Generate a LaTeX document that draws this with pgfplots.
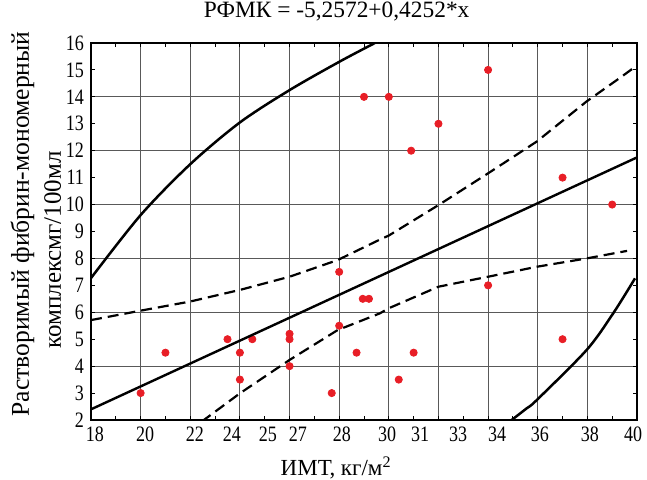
\documentclass[border=0pt]{standalone}
\usepackage{fontspec}
\setmainfont{Liberation Serif}
\newfontfamily\tickfont{Liberation Serif}[FakeStretch=0.82]
\usepackage{pgfplots}
\pgfplotsset{compat=1.18}
\definecolor{dotred}{RGB}{232,30,38}

\begin{document}
\begin{tikzpicture}
\path[use as bounding box] (-45.5pt,-30pt) rectangle (278pt,210pt);
\begin{axis}[
    at={(0,0)}, anchor=south west,
    scale only axis, width=273pt, height=188.5pt,
    xmin=18, xmax=40, ymin=2, ymax=16,
    clip mode=individual,
    xtick={18,...,40}, xticklabels={},
    minor xtick={20,22,...,38},
    ytick={2,...,16},
    minor ytick={4,6,...,14},
    xminorgrids, yminorgrids,
    minor grid style={black!65, line width=0.5pt},
    minor tick length=0pt,
    major tick length=2.2pt,
    tick align=inside,
    tick style={black, line width=0.5pt},
    axis line style={black, line width=0.6pt},
    % tick labels sit where the printed figure has them
    extra x ticks={18.16,20.18,22.19,23.68,25.13,26.34,28.11,29.93,31.26,32.79,34.36,36.09,38.1,39.84},
    extra x tick labels={18,20,22,24,25,27,28,30,31,33,34,36,38,40},
    extra x tick style={major tick length=0pt, grid=none},
    tick label style={font=\tickfont\fontsize{11}{13}\selectfont},
    /pgf/number format/assume math mode=true,
    title={РФМК = -5,2572+0,4252*x},
    title style={at={(axis description cs:0.45,1)}, anchor=base, yshift=6.5pt,
        font=\fontsize{11.7}{13}\selectfont, inner sep=0pt},
    xlabel={ИМТ, кг/м\textsuperscript{2}},
    xlabel style={at={(axis description cs:0.449,0)}, anchor=base, yshift=-28pt,
        font=\fontsize{11.5}{13}\selectfont, inner sep=0pt},
]
% data points
\addplot[only marks, mark=*, mark size=1.8pt, color=dotred] coordinates {
    (20,3) (21,4.5) (23.5,5) (24,4.5) (24,3.5) (24.5,5)
    (26,5.2) (26,5) (26,4) (27.7,3) (28,7.5) (28,5.5)
    (28.7,4.5) (28.95,6.5) (29.2,6.5) (29,14) (30,14) (34,15)
    (32,13) (30.9,12) (37,11) (39,10) (34,7) (37,5)
    (31,4.5) (30.4,3.5)
};
% regression line
\addplot[black, line width=1.2pt] coordinates {(18,2.396) (40,11.751)};
% confidence bands
\addplot[black, line width=1.1pt, dash pattern=on 5.5pt off 3pt] coordinates {
    (18,5.71) (20,6.06) (22,6.4) (24,6.83) (26,7.32) (27.94,7.94)
    (29.64,8.7) (30,8.85) (32,9.98) (34,11.16) (35.96,12.34)
    (37.97,13.83) (39.38,14.75) (39.9,15.1)
};
\addplot[black, line width=1.1pt, dash pattern=on 5.5pt off 3pt] coordinates {
    (22.46,1.94) (24,2.99) (26,4.23) (27.94,5.34) (29.64,5.96) (30,6.15)
    (32,6.95) (34,7.32) (35.96,7.69) (37.97,8.0) (39.6,8.28)
};
% ellipse arcs
\addplot[black, line width=1.25pt, smooth] coordinates {
    (18,7.27) (20,9.61) (22,11.5) (24,13.05) (26,14.25) (28,15.3) (29.44,16)
};
\addplot[black, line width=1.25pt, smooth] coordinates {
    (34.95,2.0) (35.55,2.43) (35.96,2.74) (37.97,4.6)
    (39.04,5.96) (39.92,7.26)
};
\node[rotate=90, anchor=base, font=\fontsize{12.8}{14}\selectfont]
    at (axis description cs:-0.114,0.52) {Растворимый фибрин-мономерный};
\node[rotate=90, anchor=base, font=\fontsize{12.5}{14}\selectfont]
    at (axis description cs:-0.055,0.451) {комплексмг/100мл};
\end{axis}
\end{tikzpicture}
\end{document}
